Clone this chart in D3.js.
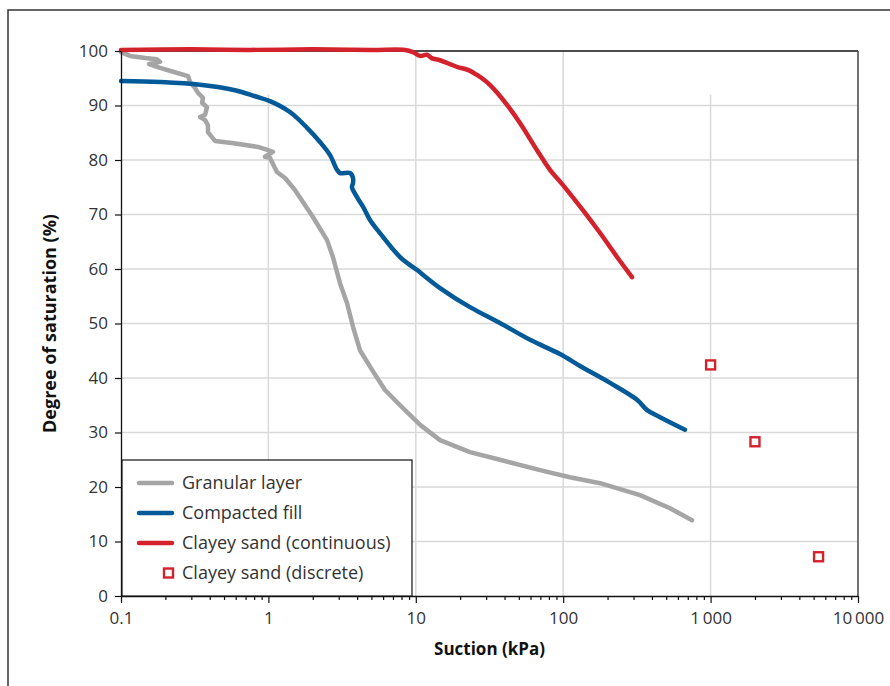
<!DOCTYPE html>
<html>
<head>
<meta charset="utf-8">
<script src="https://cdn.jsdelivr.net/npm/d3@7"></script>
<style>
  html, body { margin: 0; padding: 0; background: #fff; }
  svg { display: block; font-family: "Open Sans", "Noto Sans", sans-serif; }
</style>
</head>
<body>
<svg id="chart" width="890" height="686"></svg>
<script>
// ---- Data (suction in kPa, degree of saturation in %) ----
const granularSuction = [0.1, 0.115, 0.146, 0.175, 0.184, 0.155, 0.184, 0.232, 0.285, 0.294, 0.318, 0.333, 0.360, 0.355, 0.383, 0.372, 0.344, 0.372, 0.389, 0.389, 0.414, 0.434, 0.566, 0.85, 0.994, 1.074, 0.948, 1.025, 1.109, 1.143, 1.297, 1.514, 2.01, 2.50, 2.74, 3.06, 3.41, 3.75, 4.18, 5.05, 6.18, 7.82, 10.7, 14.6, 23.3, 37.2, 69.7, 111, 178, 332, 531, 748];
const granularSat     = [99.8, 99.1, 98.7, 98.5, 98.0, 97.6, 96.9, 96.1, 95.4, 94.3, 93.2, 92.3, 91.4, 90.5, 89.7, 88.3, 87.9, 87.3, 86.4, 85.1, 84.2, 83.5, 83.1, 82.4, 81.8, 81.5, 80.6, 80.4, 78.5, 77.8, 76.7, 74.5, 69.5, 65.3, 62.2, 57.4, 53.8, 49.4, 45.1, 41.5, 37.8, 35.0, 31.4, 28.6, 26.4, 25.0, 23.1, 21.8, 20.7, 18.5, 16.1, 13.9];

const fillSuction = [0.1, 0.184, 0.344, 0.593, 0.811, 1.025, 1.40, 1.83, 2.24, 2.62, 2.92, 3.06, 3.58, 3.75, 3.75, 3.69, 3.99, 4.39, 4.89, 5.71, 7.82, 10.2, 14.6, 23.3, 37.2, 59.6, 95.1, 130, 208, 317, 371, 454, 670];
const fillSat     = [94.5, 94.3, 93.8, 92.8, 91.7, 90.8, 88.8, 85.9, 83.3, 80.9, 78.2, 77.6, 77.6, 76.7, 75.8, 75.0, 73.2, 71.4, 69.0, 66.6, 62.2, 59.8, 56.5, 53.0, 50.1, 47.0, 44.4, 42.2, 39.1, 36.0, 34.1, 32.8, 30.5];

const claySuction = [0.1, 0.3, 0.75, 2.0, 5.0, 8.45, 9.57, 10.7, 11.9, 12.8, 14.6, 19.0, 22.8, 26.0, 29.7, 31.8, 35.8, 41.6, 50.9, 66.4, 81.3, 99.7, 136, 178, 232, 293];
const claySat     = [100.2, 100.3, 100.2, 100.3, 100.2, 100.2, 99.8, 99.1, 99.3, 98.7, 98.3, 97.1, 96.5, 95.6, 94.5, 93.8, 92.3, 90.1, 86.8, 81.8, 78.2, 75.4, 70.8, 66.6, 62.2, 58.5];

const discreteSuction = [1000, 2000, 5400];
const discreteSat     = [42.4, 28.3, 7.2];

const xTickValues = [0.1, 1, 10, 100, 1000, 10000];
const xTickLabels = ["0.1", "1", "10", "100", "1\u2009000", "10\u2009000"];
const yTickValues = [0, 10, 20, 30, 40, 50, 60, 70, 80, 90, 100];
const seriesNames = ["Granular layer", "Compacted fill", "Clayey sand (continuous)", "Clayey sand (discrete)"];

// ---- Styles ----
const colGray = "#a5a5a5", colBlue = "#035a99", colRed = "#d4222c";

const svg = d3.select("#chart");
const margin = { left: 121, right: 890 - 858, top: 51, bottom: 686 - 596 };
const W = 890, H = 686;

const x = d3.scaleLog().domain([0.1, 10000]).range([margin.left, W - margin.right]);
const y = d3.scaleLinear().domain([0, 100]).range([H - margin.bottom, margin.top]);

// outer frame
svg.append("rect").attr("x", 8).attr("y", 10).attr("width", 900).attr("height", 700)
  .attr("fill", "none").attr("stroke", "#333").attr("stroke-width", 1.5);

// grid
const g = svg.append("g");
g.selectAll(".hg").data(yTickValues.filter(v => v > 0 && v < 100)).enter().append("line")
  .attr("x1", x(0.1)).attr("x2", x(10000)).attr("y1", d => y(d)).attr("y2", d => y(d))
  .attr("stroke", "#d9d9d9").attr("stroke-width", 1.5);
const vGrid = [1, 10, 100, 1000];
const vGridTop = [92, 100, 100, 92];
g.selectAll(".vg").data(vGrid).enter().append("line")
  .attr("x1", d => x(d)).attr("x2", d => x(d)).attr("y1", (d, i) => y(vGridTop[i])).attr("y2", y(0))
  .attr("stroke", "#d9d9d9").attr("stroke-width", 1.5);

// plot box top/right
svg.append("line").attr("x1", x(0.1)).attr("x2", x(10000)).attr("y1", y(100)).attr("y2", y(100))
  .attr("stroke", "#111").attr("stroke-width", 1.3);
svg.append("line").attr("x1", x(10000)).attr("x2", x(10000)).attr("y1", y(100)).attr("y2", y(0))
  .attr("stroke", "#444").attr("stroke-width", 1.5);

// lines
function drawSeries(xs, ys, color, curve) {
  const line = d3.line().x(d => x(d[0])).y(d => y(d[1])).curve(curve);
  svg.append("path").datum(xs.map((v, i) => [v, ys[i]]))
    .attr("d", line).attr("fill", "none").attr("stroke", color)
    .attr("stroke-width", 4.5).attr("stroke-linejoin", "round").attr("stroke-linecap", "round");
}
drawSeries(granularSuction, granularSat, colGray, d3.curveLinear);
drawSeries(fillSuction, fillSat, colBlue, d3.curveCatmullRom.alpha(0.5));
drawSeries(claySuction, claySat, colRed, d3.curveCatmullRom.alpha(0.5));

svg.selectAll(".sq").data(discreteSuction.map((v, i) => [v, discreteSat[i]])).enter().append("rect")
  .attr("x", d => x(d[0]) - 4.5).attr("y", d => y(d[1]) - 4.5).attr("width", 9).attr("height", 9)
  .attr("fill", "#fff").attr("stroke", colRed).attr("stroke-width", 2.4);

// axes
const xAxisG = svg.append("g").attr("transform", `translate(0,${y(0)})`);
const minorTicks = [];
for (let e = -1; e < 4; e++) for (let m = 2; m <= 9; m++) minorTicks.push(m * Math.pow(10, e));
xAxisG.call(d3.axisBottom(x).tickValues(minorTicks).tickSize(4).tickFormat(""))
  .call(s => s.select(".domain").remove());
const xMaj = svg.append("g").attr("transform", `translate(0,${y(0)})`)
  .call(d3.axisBottom(x).tickValues(xTickValues).tickSize(7).tickSizeOuter(0).tickPadding(9)
    .tickFormat((d, i) => xTickLabels[i]));
xMaj.select(".domain").attr("stroke", "#111").attr("stroke-width", 1.3);
svg.selectAll(".tick line").attr("stroke", "#111").attr("stroke-width", 1.2);
xMaj.selectAll("text").attr("font-size", 17).attr("fill", "#333").attr("font-family", "'Open Sans', sans-serif");

const yAx = svg.append("g").attr("transform", `translate(${x(0.1)},0)`)
  .call(d3.axisLeft(y).tickValues(yTickValues).tickSize(6).tickSizeOuter(0).tickPadding(7));
yAx.select(".domain").attr("stroke", "#111").attr("stroke-width", 1.3);
yAx.selectAll(".tick line").attr("stroke", "#111").attr("stroke-width", 1.2);
yAx.selectAll("text").attr("font-size", 17).attr("fill", "#333").attr("font-family", "'Open Sans', sans-serif");

// axis titles
svg.append("text").attr("x", (x(0.1) + x(10000)) / 2).attr("y", 655).attr("text-anchor", "middle")
  .attr("font-size", 17).attr("font-weight", "bold").attr("fill", "#111").text("Suction (kPa)");
svg.append("text").attr("transform", `translate(56,${(y(0) + y(100)) / 2}) rotate(-90)`)
  .attr("text-anchor", "middle").attr("font-size", 18).attr("font-weight", "bold").attr("fill", "#111")
  .text("Degree of saturation (%)");

// legend
const lg = svg.append("g");
lg.append("rect").attr("x", 122).attr("y", 460).attr("width", 290).attr("height", y(0) - 460)
  .attr("fill", "#fff").attr("stroke", "#111").attr("stroke-width", 1.2);
const legColors = [colGray, colBlue, colRed];
seriesNames.forEach((name, i) => {
  const cy = 483 + i * 30;
  if (i < 3) {
    lg.append("line").attr("x1", 139).attr("x2", 172).attr("y1", cy).attr("y2", cy)
      .attr("stroke", legColors[i]).attr("stroke-width", 4.5).attr("stroke-linecap", "round");
  } else {
    lg.append("rect").attr("x", 164).attr("y", cy - 4.5).attr("width", 9).attr("height", 9)
      .attr("fill", "#fff").attr("stroke", colRed).attr("stroke-width", 2.4);
  }
  lg.append("text").attr("x", 182).attr("y", cy + 6).attr("font-size", 18).attr("fill", "#333").text(name);
});
</script>
</body>
</html>
